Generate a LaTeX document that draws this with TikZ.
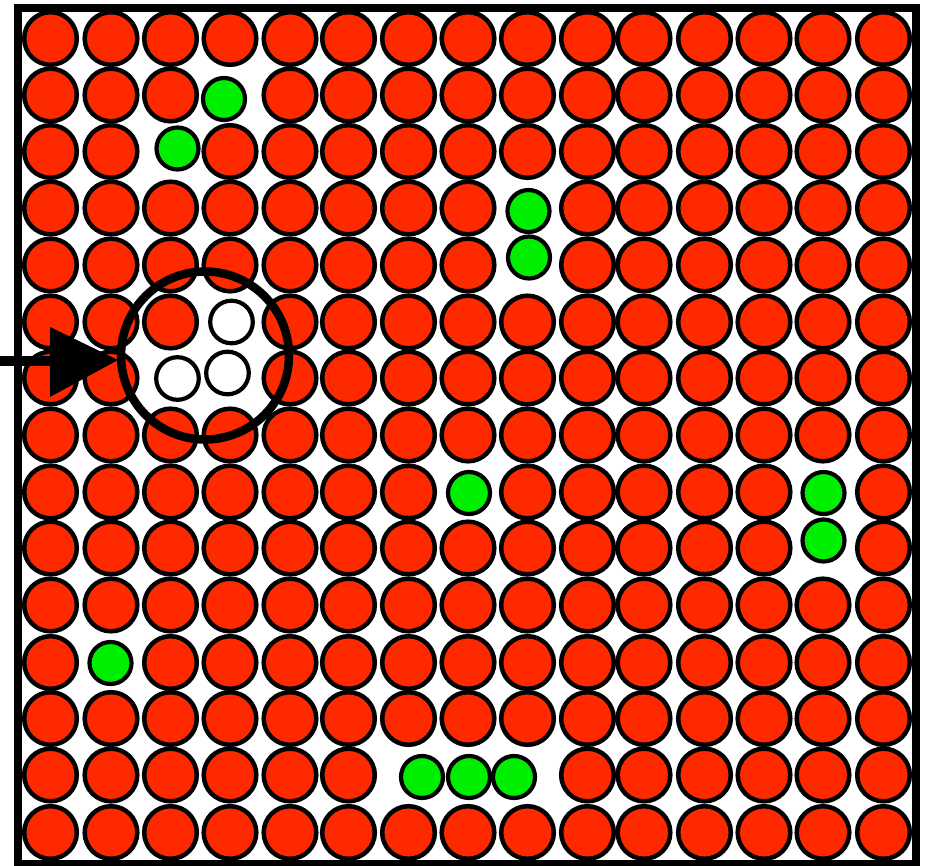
\documentclass[tikz,border=0pt]{standalone}
\definecolor{redc}{RGB}{255,41,0}
\definecolor{greenc}{RGB}{0,238,0}
\tikzset{
  reddisc/.style={fill=redc, draw=black, line width=4.5pt},
  greendisc/.style={fill=greenc, draw=black, line width=4.2pt},
  whitedisc/.style={fill=white, draw=black, line width=4.2pt},
  lensring/.style={draw=black, line width=8.5pt},
  framebox/.style={draw=black, line width=8pt},
}
\expandafter\def\csname skip-1-3\endcsname{}
\expandafter\def\csname skip-2-2\endcsname{}
\expandafter\def\csname skip-3-8\endcsname{}
\expandafter\def\csname skip-4-8\endcsname{}
\expandafter\def\csname skip-5-3\endcsname{}
\expandafter\def\csname skip-6-2\endcsname{}
\expandafter\def\csname skip-6-3\endcsname{}
\expandafter\def\csname skip-8-7\endcsname{}
\expandafter\def\csname skip-8-13\endcsname{}
\expandafter\def\csname skip-9-13\endcsname{}
\expandafter\def\csname skip-11-1\endcsname{}
\expandafter\def\csname skip-13-6\endcsname{}
\expandafter\def\csname skip-13-7\endcsname{}
\expandafter\def\csname skip-13-8\endcsname{}
\begin{document}
\begin{tikzpicture}[x=1pt,y=-1pt]
\useasboundingbox (0,0) rectangle (926,866);
\fill[white] (0,0) rectangle (926,866);
% red grid
\foreach \r/\yy in {0/38.5,1/95,2/151.5,3/208,4/265,5/322,6/378,7/435,8/492,9/548,10/605,11/662.5,12/718.5,13/775,14/832.5}{
  \foreach \c/\xx in {0/50.5,1/111,2/170.5,3/230,4/290,5/348.5,6/408.5,7/468,8/527.5,9/587.5,10/644,11/704.5,12/764,13/823,14/883.5}{
    \ifcsname skip-\r-\c\endcsname\else
      \draw[reddisc] (\xx,\yy) circle[radius=26.3];
    \fi
  }
}
% green discs
\foreach \xx/\yy in {224/99,177.5/148.5,528.5/211,529/257.5,469/493,823.5/493,823.5/540.5,110.5/663,422/777,469/777,514/777}{
  \draw[greendisc] (\xx,\yy) circle[radius=21];
}
% white discs
\foreach \xx/\yy in {231.5/322,177.5/378.5,227.5/373}{
  \draw[whitedisc] (\xx,\yy) circle[radius=21.3];
}
% lens ring
\node[circle, lensring, minimum size=168pt, inner sep=0pt] (lens) at (205,355.5) {};
% arrow
\coordinate (src) at (0,361.5);
\coordinate (tip) at (118,360);
\coordinate (base) at (55,361.5);
\draw[line width=10pt] (src) -- (base);
\fill[black] (50,327) -- (tip) -- (50,397) -- cycle;
% frame
\draw[framebox] (18,8) rectangle (916,864);
\end{tikzpicture}
\end{document}
